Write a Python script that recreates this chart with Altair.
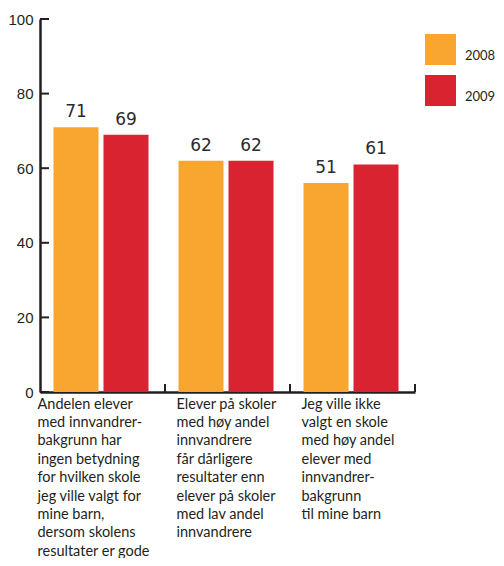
import altair as alt
import pandas as pd

categories = [
    "Andelen elever\nmed innvandrer-\nbakgrunn har\ningen betydning\nfor hvilken skole\njeg ville valgt for\nmine barn,\ndersom skolens\nresultater er gode",
    "Elever på skoler\nmed høy andel\ninnvandrere\nfår dårligere\nresultater enn\nelever på skoler\nmed lav andel\ninnvandrere",
    "Jeg ville ikke\nvalgt en skole\nmed høy andel\nelever med\ninnvandrer-\nbakgrunn\ntil mine barn",
]
years = ["2008", "2009"]
values_2008 = [71, 62, 56]
values_2009 = [69, 62, 61]
labels_2008 = ["71", "62", "51"]
labels_2009 = ["69", "62", "61"]
y_ticks = [0, 20, 40, 60, 80, 100]
colors = ["#F8A630", "#D92331"]

rows = []
for c, v, l in zip(categories, values_2008, labels_2008):
    rows.append({"cat": c, "year": "2008", "value": v, "label": l})
for c, v, l in zip(categories, values_2009, labels_2009):
    rows.append({"cat": c, "year": "2009", "value": v, "label": l})
df = pd.DataFrame(rows)
cat_df = pd.DataFrame({"cat": categories})
tick_df = pd.DataFrame({"v": y_ticks})

INK = "#231F20"

x_enc = alt.X(
    "cat:N",
    sort=categories,
    title=None,
    scale=alt.Scale(paddingInner=0, paddingOuter=0),
    axis=alt.Axis(
        ticks=False,
        domainColor=INK,
        domainWidth=2.5,
        labelAngle=0,
        labelAlign="left",
        labelBaseline="top",
        labelExpr="split(datum.label, '\\n')",
        labelLineHeight=18.4,
        labelPadding=5,
        labelFont="Lato",
        labelFontSize=14.5,
        labelColor=INK,
        labelLimit=0,
        labelOverlap=False,
        labelOffset={"condition": {"test": "datum.index == 0", "value": -65}, "value": -51},
    ),
)
y_enc = alt.Y(
    "value:Q",
    title=None,
    scale=alt.Scale(domain=[0, 100], nice=False),
    axis=alt.Axis(
        values=y_ticks,
        ticks=False,
        grid=False,
        domainColor=INK,
        domainWidth=2.5,
        labelPadding=7,
        labelFont="Liberation Sans",
        labelFontSize=15,
        labelColor=INK,
    ),
)
xoff = alt.XOffset(
    "year:N",
    scale=alt.Scale(paddingInner=0.1, paddingOuter=0.3, align=0.45),
)

bars = alt.Chart(df).mark_bar().encode(
    x=x_enc,
    y=y_enc,
    xOffset=xoff,
    color=alt.Color(
        "year:N",
        scale=alt.Scale(domain=years, range=colors),
        legend=alt.Legend(
            orient="none",
            legendX=385,
            legendY=15,
            title=None,
            symbolType="square",
            symbolSize=961,
            symbolStrokeWidth=0,
            symbolOpacity=1,
            labelFont="Lato",
            labelFontSize=13,
            labelColor=INK,
            labelBaseline="top",
            labelOffset=9,
            rowPadding=10,
            padding=0,
        ),
    ),
)

bar_text = alt.Chart(df).mark_text(
    baseline="bottom", dy=-6, font="DejaVu Sans", fontSize=17, color="#2b2b2b"
).encode(
    x=alt.X("cat:N", sort=categories),
    xOffset=alt.XOffset("year:N"),
    y=alt.Y("value:Q"),
    text="label:N",
)

x_ticks = alt.Chart(cat_df).mark_rule(color=INK, strokeWidth=2).encode(
    x=alt.X("cat:N", sort=categories, bandPosition=1),
    y=alt.value(365),
    y2=alt.value(373),
)

y_tick_marks = alt.Chart(tick_df).mark_rule(color=INK, strokeWidth=2).encode(
    y=alt.Y("v:Q"),
    x=alt.value(0),
    x2=alt.value(9),
)

chart = alt.layer(bars, bar_text, x_ticks, y_tick_marks).properties(
    width=375,
    height=373,
    autosize=alt.AutoSizeParams(type="none"),
    padding={"left": 32, "top": 11, "right": 81, "bottom": 166},
).configure_view(stroke=None)

chart.save("out.html", embed_options={"renderer": "svg", "actions": False})
